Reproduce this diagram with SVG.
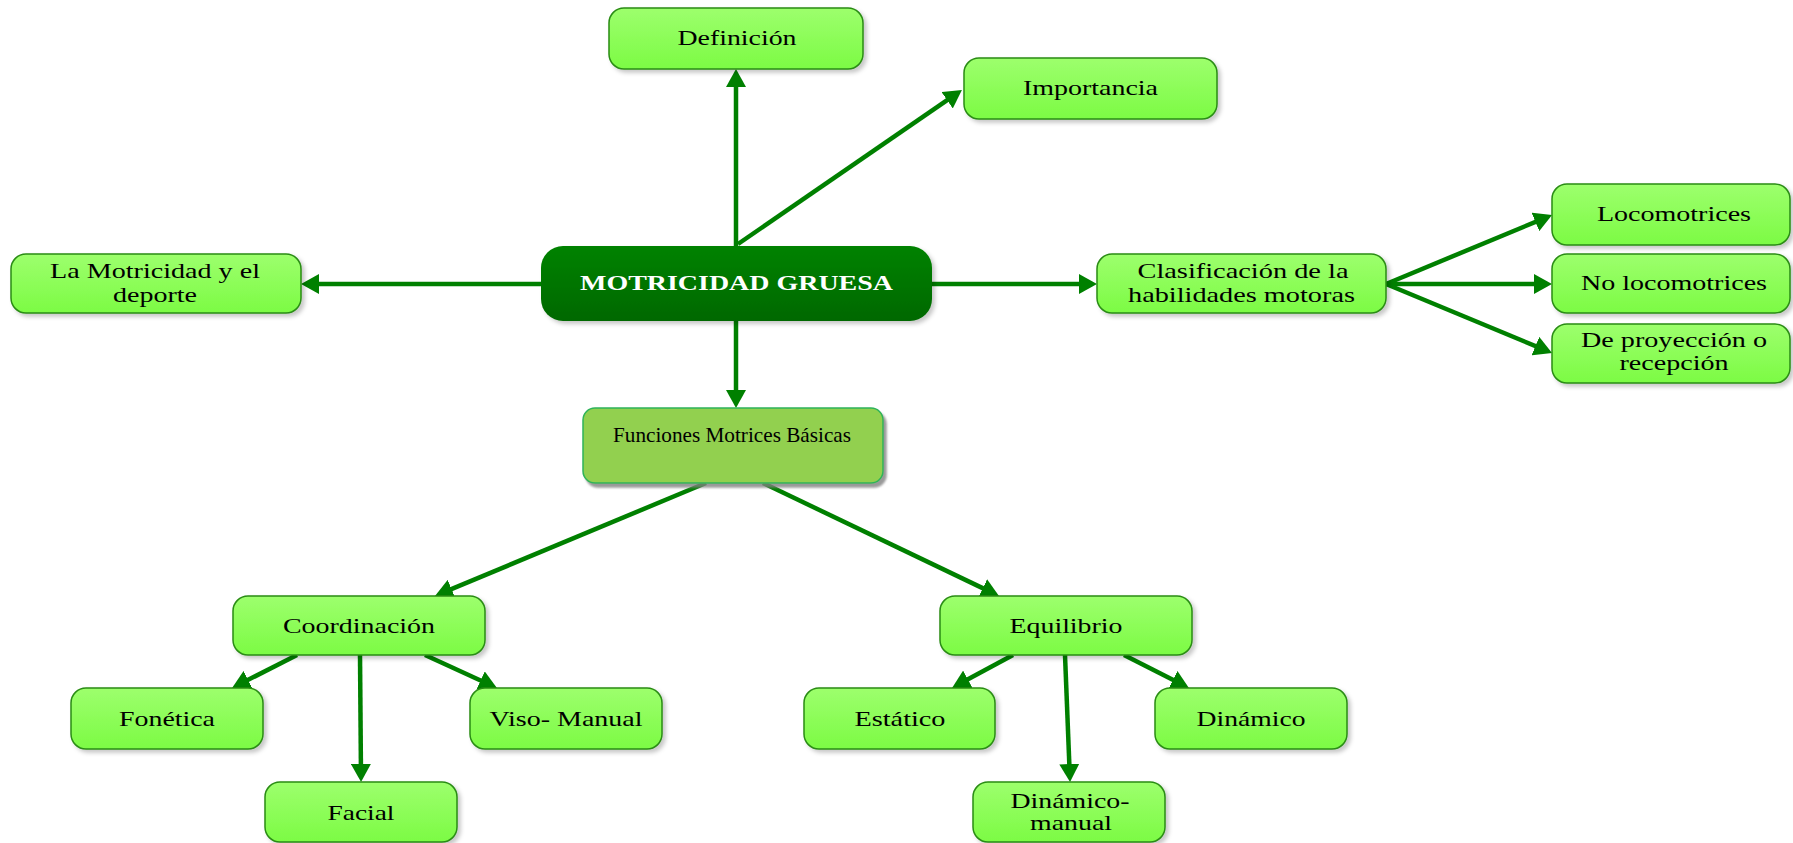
<svg xmlns="http://www.w3.org/2000/svg" width="1793" height="843" viewBox="0 0 1793 843">
<defs>
<linearGradient id="gl" x1="0" y1="0" x2="0" y2="1">
<stop offset="0" stop-color="#9dff6d"/>
<stop offset="1" stop-color="#7cfb44"/>
</linearGradient>
<linearGradient id="gd" x1="0" y1="0" x2="0" y2="1">
<stop offset="0" stop-color="#008200"/>
<stop offset="1" stop-color="#006800"/>
</linearGradient>
<filter id="sh" x="-10%" y="-20%" width="125%" height="150%">
<feDropShadow dx="3" dy="3" stdDeviation="2" flood-color="#000" flood-opacity="0.22"/>
</filter>
<filter id="sh2" x="-10%" y="-20%" width="125%" height="150%">
<feDropShadow dx="3" dy="4" stdDeviation="0.8" flood-color="#808080" flood-opacity="0.8"/>
</filter>
<marker id="ah" markerUnits="userSpaceOnUse" markerWidth="18" markerHeight="20" refX="12" refY="10" orient="auto">
<path d="M0,0 L18,10 L0,20 z" fill="#008000"/>
</marker>
</defs>
<style>
.bx{fill:url(#gl);stroke:#2a8c14;stroke-width:1.5;filter:url(#sh)}
.t{font-family:"Liberation Serif","Times New Roman",serif;font-size:22px;fill:#000;text-anchor:middle}
.c{stroke:#008000;stroke-width:4.5;fill:none;marker-end:url(#ah)}
</style>
<g id="connectors">
<line class="c" x1="736" y1="246" x2="736" y2="75"/>
<line class="c" x1="738" y1="244" x2="957" y2="93.4"/>
<line class="c" x1="541" y1="284" x2="307" y2="284"/>
<line class="c" x1="932" y1="284" x2="1091" y2="284"/>
<line class="c" x1="736" y1="321" x2="736" y2="402"/>
<line class="c" x1="1386" y1="284" x2="1546.5" y2="217.3"/>
<line class="c" x1="1386" y1="284" x2="1546" y2="284"/>
<line class="c" x1="1386" y1="284" x2="1546.5" y2="350.7"/>
<line class="c" x1="706" y1="483" x2="440.5" y2="593.7"/>
<line class="c" x1="763" y1="483" x2="993.6" y2="593.4"/>
<line class="c" x1="297" y1="655" x2="237.4" y2="685.3"/>
<line class="c" x1="360" y1="655" x2="361" y2="776"/>
<line class="c" x1="425" y1="655" x2="491.5" y2="685.5"/>
<line class="c" x1="1013" y1="655" x2="957.3" y2="685.1"/>
<line class="c" x1="1065" y1="655" x2="1069.8" y2="776"/>
<line class="c" x1="1124" y1="655" x2="1183.6" y2="685.3"/>
</g>
<g id="n-main">
<rect x="541" y="246" width="391" height="75" rx="22" fill="url(#gd)" filter="url(#sh)"/>
<text class="t" x="736.5" y="290" style="font-weight:bold;font-size:21px;fill:#fff" textLength="313" lengthAdjust="spacingAndGlyphs">MOTRICIDAD GRUESA</text>
</g>
<g id="n-definicion">
<rect class="bx" x="609" y="8" width="254" height="61" rx="15"/>
<text class="t" x="737" y="45" textLength="119" lengthAdjust="spacingAndGlyphs">Definición</text>
</g>
<g id="n-importancia">
<rect class="bx" x="964" y="58" width="253" height="61" rx="15"/>
<text class="t" x="1090.5" y="95" textLength="135" lengthAdjust="spacingAndGlyphs">Importancia</text>
</g>
<g id="n-deporte">
<rect class="bx" x="11" y="254" width="290" height="59" rx="15"/>
<text class="t" x="155" y="278" textLength="210" lengthAdjust="spacingAndGlyphs">La Motricidad y el</text>
<text class="t" x="155" y="302" textLength="84" lengthAdjust="spacingAndGlyphs">deporte</text>
</g>
<g id="n-clasificacion">
<rect class="bx" x="1097" y="254" width="289" height="59" rx="15"/>
<text class="t" x="1243" y="278" textLength="211" lengthAdjust="spacingAndGlyphs">Clasificación de la</text>
<text class="t" x="1241.5" y="302" textLength="227" lengthAdjust="spacingAndGlyphs">habilidades motoras</text>
</g>
<g id="n-locomotrices">
<rect class="bx" x="1552" y="184" width="238" height="61" rx="15"/>
<text class="t" x="1674" y="221" textLength="154" lengthAdjust="spacingAndGlyphs">Locomotrices</text>
</g>
<g id="n-nolocomotrices">
<rect class="bx" x="1552" y="254" width="238" height="59" rx="15"/>
<text class="t" x="1674" y="290" textLength="186" lengthAdjust="spacingAndGlyphs">No locomotrices</text>
</g>
<g id="n-proyeccion">
<rect class="bx" x="1552" y="324" width="238" height="59" rx="15"/>
<text class="t" x="1674" y="347" textLength="186" lengthAdjust="spacingAndGlyphs">De proyección o</text>
<text class="t" x="1674" y="370" textLength="109" lengthAdjust="spacingAndGlyphs">recepción</text>
</g>
<g id="n-funciones">
<rect x="583" y="408" width="300" height="75" rx="12" fill="#92d050" stroke="#2fb35a" stroke-width="1.5" filter="url(#sh2)"/>
<text class="t" x="732" y="442" style="font-size:21px" textLength="238" lengthAdjust="spacingAndGlyphs">Funciones Motrices Básicas</text>
</g>
<g id="n-coordinacion">
<rect class="bx" x="233" y="596" width="252" height="59" rx="15"/>
<text class="t" x="359" y="633" textLength="152" lengthAdjust="spacingAndGlyphs">Coordinación</text>
</g>
<g id="n-equilibrio">
<rect class="bx" x="940" y="596" width="252" height="59" rx="15"/>
<text class="t" x="1066" y="633" textLength="113" lengthAdjust="spacingAndGlyphs">Equilibrio</text>
</g>
<g id="n-fonetica">
<rect class="bx" x="71" y="688" width="192" height="61" rx="15"/>
<text class="t" x="167" y="726" textLength="96" lengthAdjust="spacingAndGlyphs">Fonética</text>
</g>
<g id="n-viso">
<rect class="bx" x="470" y="688" width="192" height="61" rx="15"/>
<text class="t" x="566" y="726" textLength="153" lengthAdjust="spacingAndGlyphs">Viso- Manual</text>
</g>
<g id="n-facial">
<rect class="bx" x="265" y="782" width="192" height="60" rx="15"/>
<text class="t" x="361" y="820" textLength="67" lengthAdjust="spacingAndGlyphs">Facial</text>
</g>
<g id="n-estatico">
<rect class="bx" x="804" y="688" width="191" height="61" rx="15"/>
<text class="t" x="900" y="726" textLength="91" lengthAdjust="spacingAndGlyphs">Estático</text>
</g>
<g id="n-dinamico">
<rect class="bx" x="1155" y="688" width="192" height="61" rx="15"/>
<text class="t" x="1251" y="726" textLength="109" lengthAdjust="spacingAndGlyphs">Dinámico</text>
</g>
<g id="n-dinamicomanual">
<rect class="bx" x="973" y="782" width="192" height="60" rx="15"/>
<text class="t" x="1070" y="808" textLength="119" lengthAdjust="spacingAndGlyphs">Dinámico-</text>
<text class="t" x="1071" y="830" textLength="82" lengthAdjust="spacingAndGlyphs">manual</text>
</g>
</svg>
